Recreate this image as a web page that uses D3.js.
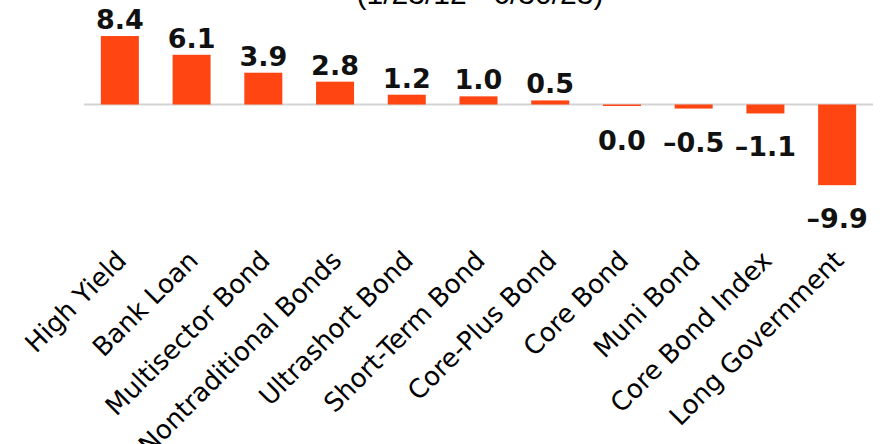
<!DOCTYPE html>
<html>
<head>
<meta charset="utf-8">
<script src="https://cdn.jsdelivr.net/npm/d3@7"></script>
<style>
  html, body { margin: 0; padding: 0; background: #fff; }
  svg { display: block; }
</style>
</head>
<body>
<svg id="chart" width="886" height="444"></svg>
<script>
const categories = ["High Yield", "Bank Loan", "Multisector Bond", "Nontraditional Bonds", "Ultrashort Bond", "Short-Term Bond", "Core-Plus Bond", "Core Bond", "Muni Bond", "Core Bond Index", "Long Government"];
const values = [8.4, 6.1, 3.9, 2.8, 1.2, 1.0, 0.5, 0.0, -0.5, -1.1, -9.9];
const subtitle = "(1/23/12 - 6/30/23)";

const svg = d3.select("#chart");
const zeroY = 104.5;
const pxPerUnit = 8.15;

const x = d3.scaleBand().domain(categories).range([84, 873]).paddingInner(0.47).paddingOuter(0.235);
const y = d3.scaleLinear().domain([-1, 1]).range([zeroY + pxPerUnit, zeroY - pxPerUnit]);

const data = categories.map((c, i) => ({ c, v: values[i] }));

// subtitle (mostly cut off at top, as in the original)
svg.append("text")
  .attr("x", 480).attr("y", 4)
  .attr("text-anchor", "middle")
  .attr("font-family", "Liberation Sans, Arial, sans-serif")
  .attr("font-size", 30)
  .attr("fill", "#000")
  .text(subtitle);

// zero line
svg.append("line")
  .attr("x1", 84).attr("x2", 873)
  .attr("y1", y(0)).attr("y2", y(0))
  .attr("stroke", "#d3d3d3").attr("stroke-width", 2);

// bars
svg.append("g").selectAll("rect").data(data).join("rect")
  .attr("x", d => x(d.c))
  .attr("width", x.bandwidth())
  .attr("y", d => Math.min(y(d.v), y(0)))
  .attr("height", d => Math.max(Math.abs(y(d.v) - y(0)), 1.5))
  .attr("fill", "#FF4612");

// value labels
const fmt = d3.format(".1f");
svg.append("g").selectAll("text").data(data).join("text")
  .attr("x", d => x(d.c) + x.bandwidth() / 2)
  .attr("y", d => d.v > 0 ? y(d.v) - 7 : Math.max(y(d.v), y(0) + 2) + 43)
  .attr("text-anchor", "middle")
  .attr("font-family", "DejaVu Sans, sans-serif")
  .attr("font-weight", "bold")
  .attr("font-size", 27)
  .attr("fill", "#111")
  .text(d => fmt(d.v).replace("−", "–").replace("-", "–"));

// category labels via axis
const axis = d3.axisBottom(x).tickSize(0).tickPadding(0);
const gAxis = svg.append("g")
  .attr("transform", `translate(0, 262)`)
  .call(axis);
gAxis.select(".domain").remove();
gAxis.selectAll(".tick text")
  .attr("font-family", "DejaVu Sans, sans-serif")
  .attr("font-size", 26)
  .attr("fill", "#000")
  .attr("text-anchor", "end")
  .attr("dy", 0)
  .attr("transform", "translate(8,0) rotate(-45)");
</script>
</body>
</html>
